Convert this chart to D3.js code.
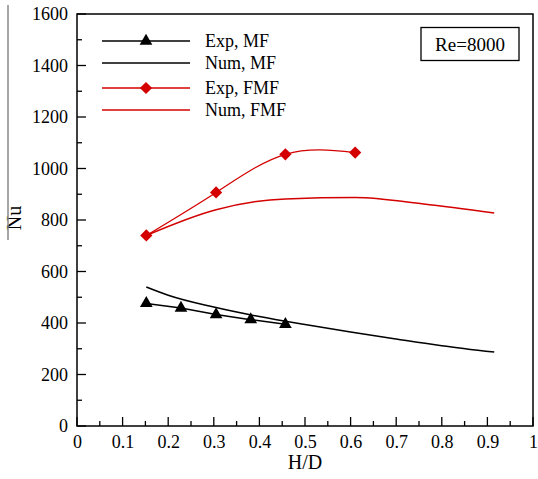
<!DOCTYPE html>
<html><head><meta charset="utf-8">
<script src="https://cdn.jsdelivr.net/npm/d3@7"></script>
<style>body{margin:0;background:#fff}svg{display:block}svg text{font-family:"Liberation Serif","DejaVu Serif",serif !important;fill:#000}</style>
</head><body><svg id="c" width="538" height="479"></svg>
<script>
const expMF_x = [0.152, 0.228, 0.305, 0.381, 0.457];
const expMF_y = [476, 458, 433, 413, 395];
const numMF_x = [0.152, 0.2, 0.3, 0.4, 0.5, 0.6, 0.7, 0.8, 0.915];
const numMF_y = [540, 508, 462, 425, 394, 365, 338, 312, 287];
const expFMF_x = [0.152, 0.305, 0.457, 0.61];
const expFMF_y = [740, 907, 1055, 1062];
const numFMF_x = [0.152, 0.305, 0.457, 0.61, 0.76, 0.915];
const numFMF_y = [740, 840, 882, 887, 862, 827];
const xTicks = [0, 0.1, 0.2, 0.3, 0.4, 0.5, 0.6, 0.7, 0.8, 0.9, 1];
const yTicks = [0, 200, 400, 600, 800, 1000, 1200, 1400, 1600];
const legendLabels = ["Exp, MF", "Num, MF", "Exp, FMF", "Num, FMF"];
const annotation = "Re=8000";

const svg = d3.select("#c");
const x = d3.scaleLinear().domain([0, 1]).range([77, 533]);
const y = d3.scaleLinear().domain([0, 1600]).range([426, 14]);
const RED = "#d40000";
const SERIF = '"Liberation Serif","DejaVu Serif",serif';

// frame
svg.append("rect").attr("x", 77).attr("y", 14).attr("width", 456).attr("height", 412)
  .attr("fill", "none").attr("stroke", "#000").attr("stroke-width", 1.5);

// x axis
const xAx = svg.append("g").attr("transform", "translate(0,426)")
  .call(d3.axisBottom(x).tickValues(xTicks).tickFormat(d => String(+d.toFixed(1))).tickSize(0).tickPadding(9));
xAx.select(".domain").remove();
xAx.attr("font-family", SERIF).attr("font-size", 18);
xAx.selectAll("text").style("font-family", SERIF).style("font-size", "18px");
svg.append("g").selectAll("line").data(d3.range(0, 1.0001, 0.05)).join("line")
  .attr("x1", d => x(d)).attr("x2", d => x(d)).attr("y1", 426)
  .attr("y2", (d, i) => 426 - (i % 2 === 0 ? 9 : 5)).attr("stroke", "#000").attr("stroke-width", 1.3);

// y axis
const yAx = svg.append("g").attr("transform", "translate(77,0)")
  .call(d3.axisLeft(y).tickValues(yTicks).tickFormat(d3.format("d")).tickSize(0).tickPadding(9));
yAx.select(".domain").remove();
yAx.attr("font-family", SERIF).attr("font-size", 18);
yAx.selectAll("text").style("font-family", SERIF).style("font-size", "18px");
svg.append("g").selectAll("line").data(d3.range(0, 1601, 100)).join("line")
  .attr("y1", d => y(d)).attr("y2", d => y(d)).attr("x1", 77)
  .attr("x2", (d, i) => 77 + (i % 2 === 0 ? 9 : 5)).attr("stroke", "#000").attr("stroke-width", 1.3);

// axis titles
svg.append("text").attr("x", 305).attr("y", 469).attr("text-anchor", "middle").style("font-size", "20px").text("H/D");
svg.append("text").attr("transform", "translate(21,218) rotate(-90)").attr("text-anchor", "middle").style("font-size", "20px").text("Nu");
svg.append("line").attr("x1", 8).attr("x2", 8).attr("y1", 5).attr("y2", 240).attr("stroke", "#888").attr("stroke-width", 1.5);

// lines
const line = (xs, ys, curve) => d3.line().x(d => x(d[0])).y(d => y(d[1])).curve(curve)(xs.map((v, i) => [v, ys[i]]));
svg.append("path").attr("d", line(numMF_x, numMF_y, d3.curveMonotoneX)).attr("fill", "none").attr("stroke", "#000").attr("stroke-width", 1.5);
svg.append("path").attr("d", line(expMF_x, expMF_y, d3.curveLinear)).attr("fill", "none").attr("stroke", "#000").attr("stroke-width", 1.5);
svg.append("path").attr("d", line(numFMF_x, numFMF_y, d3.curveMonotoneX)).attr("fill", "none").attr("stroke", RED).attr("stroke-width", 1.5);
svg.append("path").attr("d", line(expFMF_x, expFMF_y, d3.curveNatural)).attr("fill", "none").attr("stroke", RED).attr("stroke-width", 1.3);

const tri = d3.symbol().type(d3.symbolTriangle).size(70);
const dia = d3.symbol().type(d3.symbolSquare).size(75);
svg.append("g").selectAll("path").data(expMF_x.map((v, i) => [v, expMF_y[i]])).join("path")
  .attr("d", tri).attr("transform", d => `translate(${x(d[0])},${y(d[1])})`).attr("fill", "#000");
svg.append("g").selectAll("path").data(expFMF_x.map((v, i) => [v, expFMF_y[i]])).join("path")
  .attr("d", dia).attr("transform", d => `translate(${x(d[0])},${y(d[1])}) rotate(45)`).attr("fill", RED);

// legend
const ly = [41, 63, 88, 110];
const lcol = ["#000", "#000", RED, RED];
const lsym = [tri, null, dia, null];
legendLabels.forEach((t, i) => {
  svg.append("line").attr("x1", 102).attr("x2", 190).attr("y1", ly[i]).attr("y2", ly[i]).attr("stroke", lcol[i]).attr("stroke-width", 1.5);
  if (lsym[i]) svg.append("path").attr("d", lsym[i]).attr("transform", `translate(146,${ly[i]})` + (lsym[i] === dia ? " rotate(45)" : "")).attr("fill", lcol[i]);
  svg.append("text").attr("x", 205).attr("y", ly[i] + 6).style("font-size", "18px").text(t);
});

// annotation box
svg.append("rect").attr("x", 421).attr("y", 27.5).attr("width", 98).attr("height", 33).attr("fill", "#fff").attr("stroke", "#000").attr("stroke-width", 1.3);
svg.append("text").attr("x", 470).attr("y", 50.5).attr("text-anchor", "middle").style("font-size", "19px").text(annotation);
</script></body></html>
